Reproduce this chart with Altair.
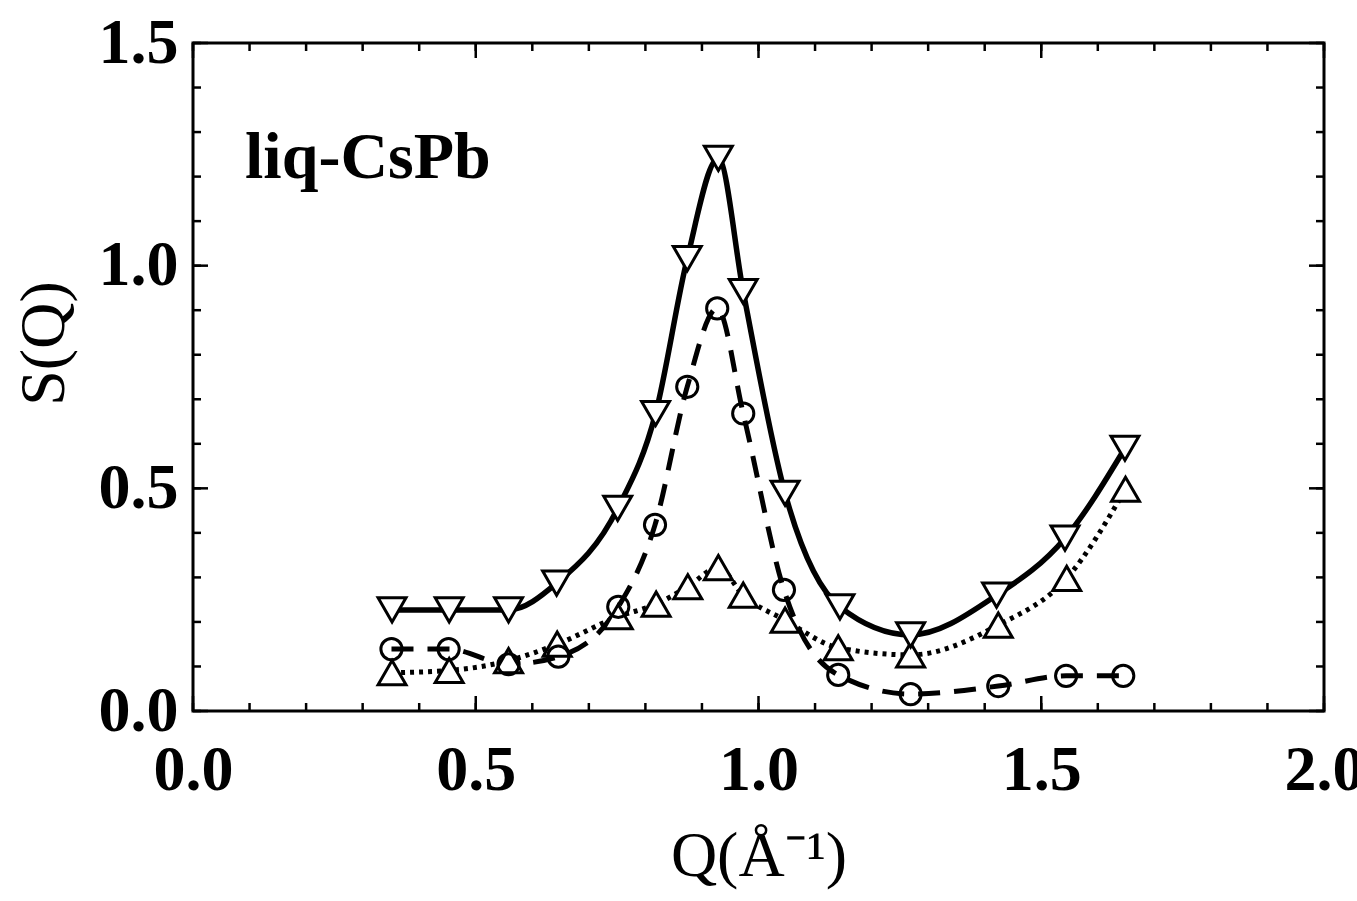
import altair as alt
import pandas as pd

# ---- data ----
q_down = [0.352, 0.453, 0.558, 0.643, 0.751, 0.818, 0.874, 0.929, 0.973, 1.047, 1.144, 1.269, 1.421, 1.542, 1.648]
s_down = [0.227, 0.227, 0.227, 0.287, 0.455, 0.668, 1.016, 1.241, 0.942, 0.489, 0.234, 0.171, 0.260, 0.388, 0.590]

q_circ = [0.351, 0.452, 0.558, 0.646, 0.752, 0.817, 0.874, 0.927, 0.973, 1.045, 1.141, 1.269, 1.424, 1.544, 1.645]
s_circ = [0.139, 0.139, 0.105, 0.122, 0.234, 0.418, 0.728, 0.904, 0.668, 0.272, 0.081, 0.038, 0.056, 0.079, 0.079]

q_up = [0.352, 0.453, 0.558, 0.644, 0.752, 0.819, 0.875, 0.929, 0.973, 1.047, 1.141, 1.269, 1.424, 1.545, 1.649]
s_up = [0.086, 0.091, 0.113, 0.150, 0.212, 0.240, 0.279, 0.322, 0.260, 0.204, 0.142, 0.126, 0.193, 0.298, 0.498]

label_text = ["liq-CsPb"]
label_q = [0.092]
label_s = [1.197]

x_label_values = [0.0, 0.5, 1.0, 1.5, 2.0]
y_label_values = [0.0, 0.5, 1.0, 1.5]
x_minor = [round(0.1 * i, 1) for i in range(21)]
y_minor = [round(0.1 * i, 1) for i in range(16)]
x_major = [0.0, 0.5, 1.0, 1.5, 2.0]
y_major = [0.0, 0.5, 1.0, 1.5]

W, H = 1131, 668
FONT = "Liberation Serif"
MINOR, MAJOR = 8, 15

xaxis = alt.Axis(values=x_label_values, format=".1f", title="Q(Å⁻¹)",
                 labelPadding=27, titlePadding=22, labelFlush=False)
yaxis = alt.Axis(values=y_label_values, format=".1f", title="S(Q)",
                 labelPadding=15, titleX=-117, titleY=300)
xs = alt.Scale(domain=[0, 2], nice=False, zero=False)
ys = alt.Scale(domain=[0, 1.5], nice=False, zero=False)


def X():
    return alt.X("q:Q", scale=xs, axis=xaxis)


def Y():
    return alt.Y("s:Q", scale=ys, axis=yaxis)


df_down = pd.DataFrame({"q": q_down, "s": s_down})
df_circ = pd.DataFrame({"q": q_circ, "s": s_circ})
df_up = pd.DataFrame({"q": q_up, "s": s_up})
df_lab = pd.DataFrame({"q": label_q, "s": label_s, "t": label_text})

line_down = alt.Chart(df_down).mark_line(color="black", strokeWidth=5.5, interpolate="monotone").encode(x=X(), y=Y())
line_circ = alt.Chart(df_circ).mark_line(color="black", strokeWidth=5, strokeDash=[22, 14], interpolate="monotone").encode(x=X(), y=Y())
line_up = alt.Chart(df_up).mark_line(color="black", strokeWidth=5, strokeDash=[4, 5], interpolate="monotone").encode(x=X(), y=Y())

pt_down = alt.Chart(df_down).mark_point(shape="triangle-down", size=780, filled=False, fill="white", fillOpacity=1, stroke="black", strokeWidth=3, opacity=1).encode(x=X(), y=Y())
pt_up = alt.Chart(df_up).mark_point(shape="triangle-up", size=780, filled=False, fill="white", fillOpacity=1, stroke="black", strokeWidth=3, opacity=1).encode(x=X(), y=Y())
pt_circ = alt.Chart(df_circ).mark_point(shape="circle", size=450, filled=False, stroke="black", strokeWidth=3, opacity=1).encode(x=X(), y=Y())

text = alt.Chart(df_lab).mark_text(font=FONT, fontWeight="bold", fontSize=66, align="left", baseline="alphabetic", color="black").encode(x=X(), y=Y(), text="t:N")

# inward ticks on all four sides
def xticks(vals, length):
    d = pd.DataFrame({"q": vals})
    bot = alt.Chart(d).mark_rule(color="black", strokeWidth=2.5).encode(x=X(), y=alt.value(H), y2=alt.value(H - length))
    top = alt.Chart(d).mark_rule(color="black", strokeWidth=2.5).encode(x=X(), y=alt.value(0), y2=alt.value(length))
    return [bot, top]


def yticks(vals, length):
    d = pd.DataFrame({"s": vals})
    left = alt.Chart(d).mark_rule(color="black", strokeWidth=2.5).encode(y=Y(), x=alt.value(0), x2=alt.value(length))
    right = alt.Chart(d).mark_rule(color="black", strokeWidth=2.5).encode(y=Y(), x=alt.value(W), x2=alt.value(W - length))
    return [left, right]


layers = (xticks(x_minor, MINOR) + xticks(x_major, MAJOR) + yticks(y_minor, MINOR) + yticks(y_major, MAJOR)
          + [line_up, line_circ, line_down, pt_up, pt_circ, pt_down, text])

chart = alt.layer(*layers).properties(
    width=W, height=H,
    padding={"left": 193, "top": 43, "right": 33, "bottom": 190},
    autosize=alt.AutoSizeParams(type="none"),
    background="white",
).configure_view(
    stroke="black", strokeWidth=3
).configure_axis(
    grid=False, ticks=False, domain=False,
    labelFont=FONT, labelFontWeight="bold", labelFontSize=64, labelColor="black",
    titleFont=FONT, titleFontWeight="normal", titleFontSize=64, titleColor="black",
)

chart.save("out.html", embed_options={"renderer": "svg", "actions": False})
